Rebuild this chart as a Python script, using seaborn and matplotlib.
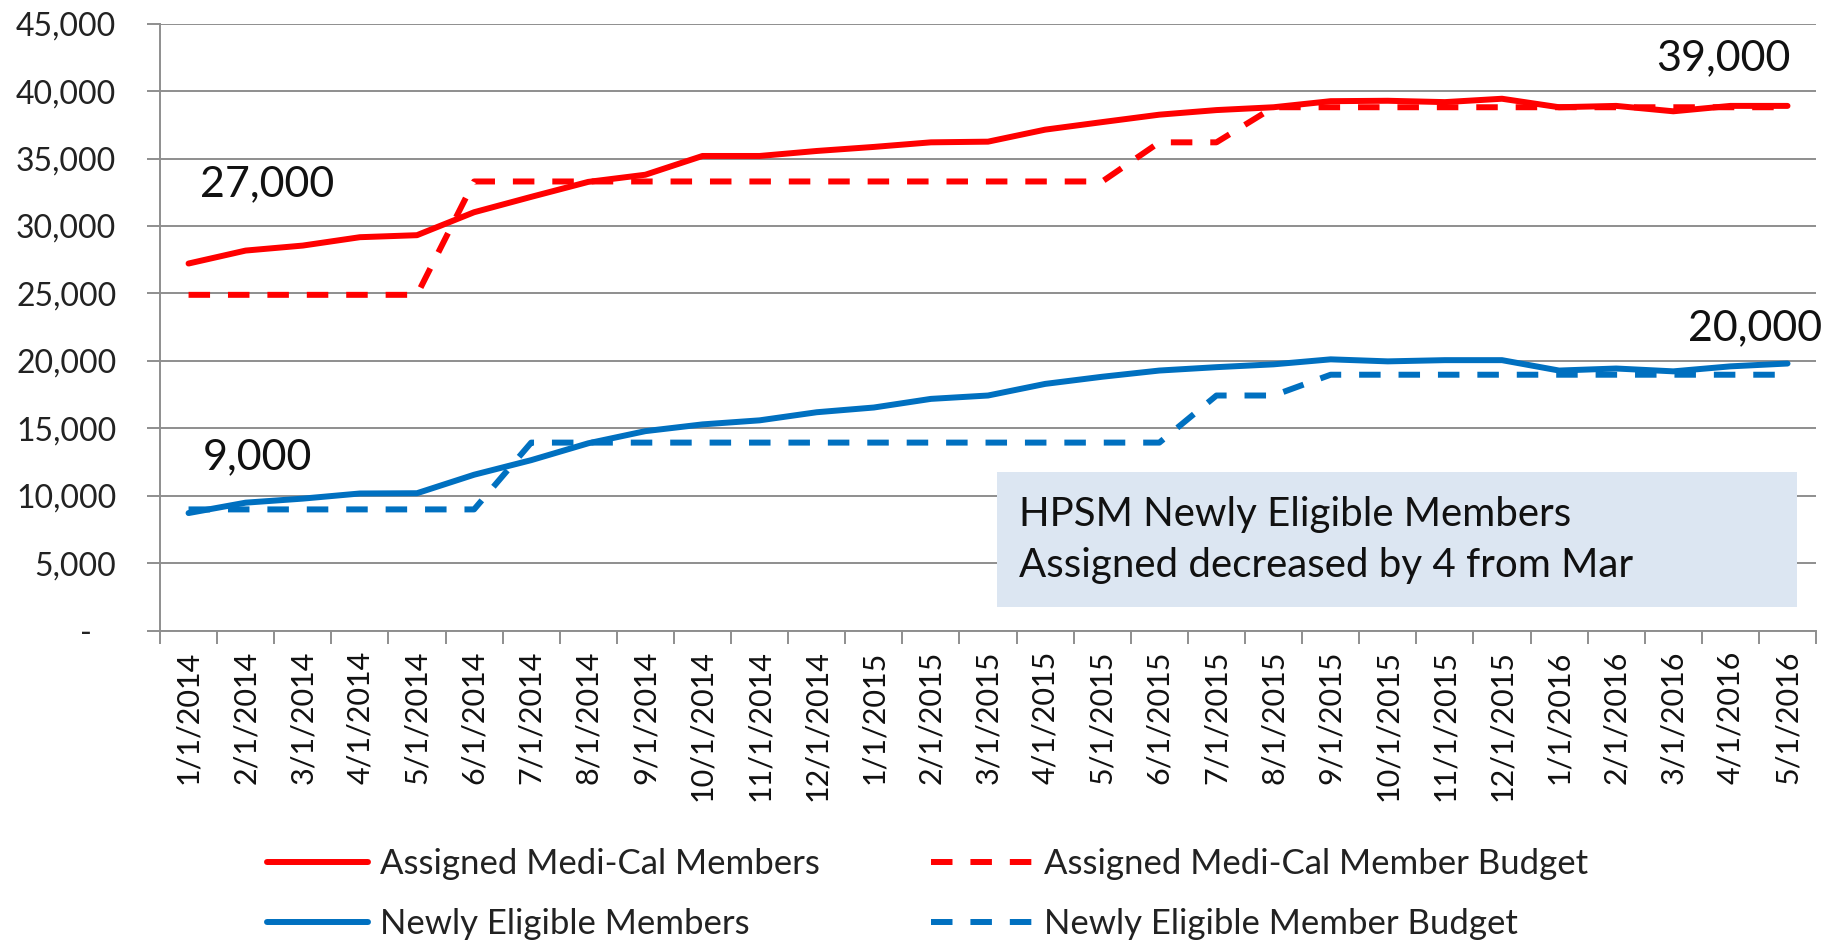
import pandas as pd
import matplotlib.pyplot as plt
import seaborn as sns
from matplotlib.patches import Rectangle
from matplotlib.ticker import FuncFormatter, MultipleLocator


months = ["1/1/2014", "2/1/2014", "3/1/2014", "4/1/2014", "5/1/2014", "6/1/2014",
          "7/1/2014", "8/1/2014", "9/1/2014", "10/1/2014", "11/1/2014", "12/1/2014",
          "1/1/2015", "2/1/2015", "3/1/2015", "4/1/2015", "5/1/2015", "6/1/2015",
          "7/1/2015", "8/1/2015", "9/1/2015", "10/1/2015", "11/1/2015", "12/1/2015",
          "1/1/2016", "2/1/2016", "3/1/2016", "4/1/2016", "5/1/2016"]

assigned = [27220, 28180, 28550, 29170, 29320, 31020, 32160, 33270, 33800, 35190,
            35190, 35560, 35860, 36200, 36250, 37140, 37700, 38250, 38590, 38800,
            39250, 39280, 39180, 39430, 38800, 38900, 38500, 38900, 38900]
assigned_budget = [24900, 24900, 24900, 24900, 24900, 33300, 33300, 33300, 33300, 33300,
                   33300, 33300, 33300, 33300, 33300, 33300, 33300, 36200, 36200, 38800,
                   38800, 38800, 38800, 38800, 38800, 38800, 38800, 38800, 38800]
newly = [8730, 9500, 9800, 10180, 10200, 11570, 12650, 13900, 14800, 15300,
         15600, 16200, 16550, 17190, 17440, 18300, 18830, 19290, 19540, 19750,
         20120, 19970, 20060, 20060, 19290, 19440, 19230, 19600, 19810]
newly_budget = [9000, 9000, 9000, 9000, 9000, 9000, 13950, 13950, 13950, 13950,
                13950, 13950, 13950, 13950, 13950, 13950, 13950, 13950, 17440, 17440,
                18980, 18980, 18980, 18980, 18980, 18980, 18980, 18980, 18980]

RED = "#ff0000"
BLUE = "#0070c0"
GRID = "#8e8e8e"

sns.set_theme(style="white")
plt.rcParams["font.family"] = ["Lato", "DejaVu Sans"]

df = pd.DataFrame({"month": months, "assigned": assigned, "assigned_budget": assigned_budget,
                   "newly": newly, "newly_budget": newly_budget})

fig = plt.figure(figsize=(18.37, 9.43), dpi=100)
ax = fig.add_axes([0.0871, 0.331, 0.9015, 0.644])

dash = (0, (3.6, 3.0))
sns.lineplot(data=df, x="month", y="assigned", sort=False, color=RED, lw=4.3,
             label="Assigned Medi-Cal Members", ax=ax)
sns.lineplot(data=df, x="month", y="newly", sort=False, color=BLUE, lw=4.3,
             label="Newly Eligible Members", ax=ax)
sns.lineplot(data=df, x="month", y="assigned_budget", sort=False, color=RED, lw=4.3,
             linestyle=dash, label="Assigned Medi-Cal Member Budget", ax=ax)
sns.lineplot(data=df, x="month", y="newly_budget", sort=False, color=BLUE, lw=4.3,
             linestyle=dash, label="Newly Eligible Member Budget", ax=ax)

ax.set_xlim(-0.5, len(months) - 0.5)
ax.set_ylim(0, 45000)
ax.yaxis.set_major_locator(MultipleLocator(5000))
ax.yaxis.set_major_formatter(FuncFormatter(lambda v, p: "-   " if v == 0 else f"{int(v):,}"))
ax.grid(axis="y", color=GRID, lw=1.4)
ax.set_axisbelow(True)
ax.set_xlabel("")
ax.set_ylabel("")

for s in ["top", "right"]:
    ax.spines[s].set_visible(False)
for s in ["left", "bottom"]:
    ax.spines[s].set_color(GRID)
    ax.spines[s].set_linewidth(1.4)

ax.tick_params(axis="y", left=True, length=9.5, width=1.4, color=GRID, pad=22,
               labelsize=23, labelcolor="#222222")
ax.tick_params(axis="x", which="major", length=0, pad=14, labelsize=22,
               labelcolor="#111111", labelrotation=90)
ax.set_xticks([i + 0.5 for i in range(-1, len(months))], minor=True)
ax.tick_params(axis="x", which="minor", bottom=True, length=9, width=1.4, color=GRID)

# value call-outs
txt = dict(fontsize=31, color="#111111")
ax.text(0.2, 33100, "27,000", ha="left", va="center", **txt)
ax.text(0.25, 12900, "9,000", ha="left", va="center", **txt)
ax.text(28.05, 42400, "39,000", ha="right", va="center", **txt)
ax.text(28.6, 22450, "20,000", ha="right", va="center", clip_on=False, **txt)

# note box
ax.add_patch(Rectangle((0.5057, 0.0385), 0.483, 0.2235, transform=ax.transAxes,
                       fc="#dce6f2", ec="none", zorder=5))
ax.text(0.5185, 0.15, "HPSM Newly Eligible Members\nAssigned decreased by 4 from Mar",
        transform=ax.transAxes, ha="left", va="center", fontsize=29,
        linespacing=1.45, color="#111111", zorder=6)

leg = fig.legend(*ax.get_legend_handles_labels(), loc="center", ncol=2,
                 bbox_to_anchor=(0.505, 0.052), frameon=False, fontsize=25,
                 handlelength=2.9, handletextpad=0.35, columnspacing=3.2,
                 labelspacing=0.8)
for t in leg.get_texts():
    t.set_color("#222222")
ax.get_legend().remove()

fig.savefig("out.png", dpi=100)
